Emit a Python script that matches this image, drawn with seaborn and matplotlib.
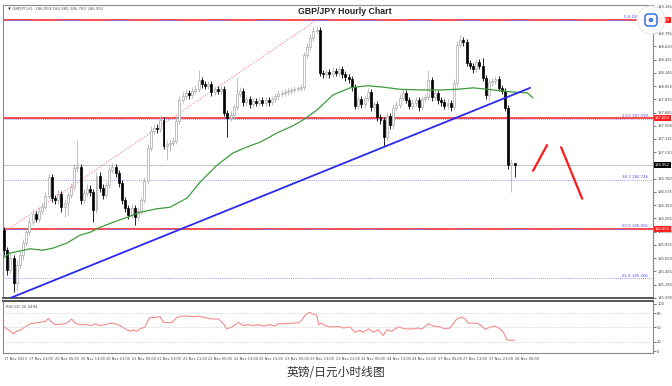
"""GBP/JPY 小时线图 (MT4 风格) 复刻."""
import matplotlib
matplotlib.use("Agg")
import matplotlib.pyplot as plt
import matplotlib.patches as mpatches
import seaborn as sns

# ---- 数据 ----
first_open = 186.04
closes = [
    185.76, 185.48, 185.65, 185.30, 185.55, 185.69, 185.86, 186.01, 186.15, 186.27,
    186.20, 186.31, 186.36, 186.52, 186.78, 186.49, 186.46, 186.55, 186.36, 186.42,
    186.53, 186.64, 186.91, 186.92, 186.46, 186.56, 186.62, 186.57, 186.32, 186.80,
    186.63, 186.53, 186.67, 186.88, 186.92, 186.84, 186.70, 186.46, 186.35, 186.25,
    186.35, 186.22, 186.31, 186.46, 186.73, 187.19, 187.43, 187.47, 187.45, 187.58,
    187.22, 187.25, 187.26, 187.29, 187.57, 187.86, 187.92, 187.96, 187.93, 187.99,
    188.01, 188.14, 188.08, 188.06, 188.08, 187.97, 188.01, 187.99, 188.01, 187.68,
    187.61, 187.65, 187.76, 187.94, 187.99, 187.83, 187.87, 187.80, 187.85, 187.82,
    187.86, 187.82, 187.86, 187.83, 187.87, 187.92, 187.94, 187.96, 187.97, 187.99,
    188.00, 188.01, 188.03, 188.04, 188.49, 188.60, 188.73, 188.82, 188.84, 188.24,
    188.22, 188.25, 188.22, 188.27, 188.24, 188.29, 188.22, 188.18, 188.15, 188.04,
    187.78, 187.87, 187.80, 187.89, 187.97, 187.76, 187.80, 187.62, 187.58, 187.34,
    187.64, 187.51, 187.75, 187.79, 187.89, 187.96, 187.86, 187.78, 187.82, 187.86,
    187.76, 187.87, 187.90, 188.14, 187.90, 187.96, 187.86, 187.83, 187.78, 187.82,
    187.76, 188.10, 188.63, 188.70, 188.67, 188.38, 188.34, 188.29, 188.39, 188.34,
    188.17, 187.93, 188.11, 188.13, 188.15, 188.03, 187.99, 187.75, 186.95, 186.98,
    186.95,
]
highs = [
    186.09, 185.80, 185.72, 185.69, 185.62, 185.76, 185.92, 186.06, 186.22, 186.33,
    186.31, 186.36, 186.42, 186.57, 186.84, 186.83, 186.53, 186.60, 186.59, 186.47,
    186.58, 186.70, 186.97, 187.30, 186.96, 186.61, 186.68, 186.67, 186.62, 186.86,
    186.85, 186.68, 186.72, 186.94, 186.98, 186.96, 186.88, 186.74, 186.50, 186.39,
    186.40, 186.39, 186.36, 186.51, 186.79, 187.25, 187.49, 187.53, 187.52, 187.64,
    187.62, 187.30, 187.31, 187.34, 187.62, 187.91, 187.97, 188.01, 188.00, 188.04,
    188.07, 188.28, 188.18, 188.12, 188.13, 188.12, 188.06, 188.05, 188.06, 188.05,
    187.72, 187.70, 187.81, 188.17, 188.04, 188.03, 187.92, 187.91, 187.89, 187.89,
    187.90, 187.90, 187.90, 187.90, 187.91, 187.96, 187.98, 188.00, 188.01, 188.03,
    188.04, 188.05, 188.06, 188.08, 188.53, 188.65, 188.78, 188.88, 188.90, 188.88,
    188.28, 188.30, 188.29, 188.32, 188.31, 188.34, 188.33, 188.26, 188.22, 188.19,
    188.08, 187.92, 187.91, 187.93, 188.03, 188.01, 187.85, 187.84, 187.66, 187.62,
    187.69, 187.68, 187.80, 187.84, 187.94, 188.02, 188.00, 187.90, 187.87, 187.90,
    187.90, 187.92, 187.95, 188.28, 188.18, 188.00, 188.00, 187.90, 187.88, 187.87,
    187.86, 188.15, 188.68, 188.77, 188.74, 188.71, 188.42, 188.38, 188.44, 188.43,
    188.45, 188.21, 188.16, 188.17, 188.20, 188.19, 188.07, 188.03, 187.79, 187.03,
    186.98,
]
lows = [
    185.69, 185.42, 185.44, 185.18, 185.20, 185.50, 185.62, 185.82, 185.97, 186.11,
    186.15, 186.16, 186.27, 186.33, 186.48, 186.44, 186.40, 186.41, 186.30, 186.22,
    186.25, 186.49, 186.60, 186.86, 186.40, 186.42, 186.52, 186.52, 186.15, 186.28,
    186.58, 186.47, 186.49, 186.63, 186.84, 186.79, 186.65, 186.41, 186.30, 186.20,
    186.21, 186.11, 186.17, 186.27, 186.42, 186.69, 187.15, 187.38, 187.40, 187.41,
    187.17, 187.02, 187.15, 187.21, 187.25, 187.53, 187.82, 187.88, 187.88, 187.89,
    187.95, 187.97, 188.03, 188.01, 188.02, 187.92, 187.93, 187.94, 187.95, 187.63,
    187.34, 187.56, 187.60, 187.72, 187.90, 187.78, 187.78, 187.75, 187.75, 187.77,
    187.77, 187.77, 187.78, 187.78, 187.79, 187.83, 187.88, 187.90, 187.92, 187.93,
    187.95, 187.96, 187.98, 187.99, 188.00, 188.45, 188.56, 188.69, 188.78, 188.19,
    188.17, 188.18, 188.17, 188.18, 188.19, 188.20, 188.17, 188.13, 188.10, 187.99,
    187.73, 187.73, 187.75, 187.75, 187.85, 187.71, 187.71, 187.57, 187.53, 187.20,
    187.29, 187.45, 187.46, 187.71, 187.75, 187.85, 187.82, 187.73, 187.74, 187.78,
    187.71, 187.72, 187.83, 187.86, 187.85, 187.86, 187.81, 187.78, 187.73, 187.74,
    187.71, 187.72, 188.06, 188.59, 188.62, 188.33, 188.29, 188.24, 188.25, 188.29,
    188.12, 187.88, 187.86, 188.06, 188.09, 187.98, 187.94, 187.70, 186.90, 186.57,
    186.78,
]

ma_idx = [-0.3, 1.9, 8.2, 12.2, 15.4, 19.7, 23.8, 27.0, 30.1, 34.2, 38.6, 42.6, 48.0,
          52.0, 57.4, 61.4, 66.8, 71.8, 77.1, 80.3, 85.6, 90.6, 93.7, 98.1, 103.1,
          108.5, 113.8, 118.8, 124.1, 131.3, 136.7, 142.0, 147.0, 151.4, 155.5,
          159.6, 164.0, 165.8]
ma_val = [185.65, 185.72, 185.78, 185.76, 185.79, 185.86, 185.97, 186.01, 186.08,
          186.15, 186.22, 186.29, 186.34, 186.36, 186.49, 186.71, 186.95, 187.12,
          187.22, 187.27, 187.40, 187.50, 187.58, 187.72, 187.93, 188.03, 188.06,
          188.04, 188.01, 188.00, 188.00, 188.01, 188.03, 188.01, 187.99, 187.97,
          187.96, 187.89]

rsi_idx = [-0.2, 1.4, 2.9, 4.0, 5.0, 6.6, 8.2, 9.2, 11.3, 12.9, 13.9, 15.0, 16.0, 18.1,
           19.6, 21.2, 22.3, 23.8, 25.9, 27.5, 28.5, 30.1, 31.7, 33.2, 34.8, 36.4,
           38.5, 39.7, 40.5, 41.6, 42.6, 44.2, 45.2, 45.8, 47.3, 48.9, 49.9, 52.6,
           54.1, 55.7, 57.3, 59.3, 60.9, 63.0, 65.1, 67.2, 68.8, 69.8, 71.4, 73.5,
           75.0, 76.6, 78.1, 79.7, 81.3, 83.4, 85.0, 86.0, 87.6, 89.7, 92.3, 93.3,
           94.4, 95.7, 97.0, 98.0, 98.7, 99.6, 100.6, 102.2, 104.8, 106.4, 108.5,
           110.0, 111.6, 112.6, 114.2, 115.8, 117.3, 118.9, 120.0, 121.5, 123.6,
           125.7, 128.3, 129.9, 130.9, 133.0, 134.6, 136.7, 138.2, 139.8, 141.9,
           143.5, 144.5, 145.6, 148.2, 149.2, 150.8, 152.4, 153.9, 155.5, 156.5,
           157.6, 158.6, 160.0]
rsi_val = [52, 45, 37, 42, 44, 51, 58, 59, 61, 63, 69, 61, 56, 57, 59, 68, 59, 56, 56,
           54, 58, 54, 56, 59, 58, 54, 45, 42, 45, 42, 47, 51, 65, 71, 71, 73, 61, 60,
           71, 74, 74, 73, 74, 71, 68, 68, 58, 47, 51, 61, 54, 56, 54, 56, 53, 56, 53,
           58, 58, 59, 60, 65, 76, 82, 78, 76, 56, 59, 54, 51, 52, 49, 51, 40, 44, 40,
           47, 40, 45, 33, 45, 42, 51, 47, 47, 49, 46, 58, 53, 51, 47, 49, 68, 72, 68,
           59, 59, 56, 46, 51, 53, 47, 40, 24, 23, 23]

time_idx = list(range(0, 161, 8))
time_labels = ["17 Nov 2023", "17 Nov 21:00", "20 Nov 05:00", "20 Nov 13:00",
               "20 Nov 21:00", "21 Nov 05:00", "21 Nov 13:00", "21 Nov 21:00",
               "22 Nov 05:00", "22 Nov 13:00", "22 Nov 21:00", "23 Nov 05:00",
               "23 Nov 13:00", "23 Nov 21:00", "24 Nov 05:00", "24 Nov 13:00",
               "24 Nov 21:00", "27 Nov 05:00", "27 Nov 13:00", "27 Nov 21:00",
               "28 Nov 05:00"]

price_ticks = [185.095 + 0.185 * k for k in range(23)]
red_levels = [188.978, 187.608, 186.056]
fib_pct = ["0.0", "23.6", "38.2", "50.0", "61.8"]
fib_levels = [188.978, 187.599, 186.746, 186.056, 185.366]
last_price = 186.952
trend_x, trend_y = [1.9, 164.9], [185.09, 188.03]
fibdiag_x, fibdiag_y = [0.9, 98.1], [186.04, 188.98]
sig1_x, sig1_y = [165.8, 170.2], [186.87, 187.23]
sig2_x, sig2_y = [174.6, 181.2], [187.20, 186.48]

sns.set_theme(style="white")
plt.rcParams["font.family"] = ["DejaVu Sans", "Noto Sans CJK SC"]
plt.rcParams["axes.unicode_minus"] = False

W, H = 672, 386
fig = plt.figure(figsize=(W / 100, H / 100), dpi=100)
ax = fig.add_axes([3 / W, 88 / H, 650 / W, 293 / H])
ax2 = fig.add_axes([3 / W, 33 / H, 650 / W, 52 / H])

opens = [first_open] + closes[:-1]
idx = list(range(len(closes)))

# 蜡烛
for i, o, h, l, c in zip(idx, opens, highs, lows, closes):
    bull = c >= o
    wick = "#b4b4b4" if bull else "black"
    ax.vlines(i, l, h, color=wick, lw=0.6, zorder=3)
    ax.bar(i, c - o, bottom=o, width=0.62, color="white" if bull else "black",
           edgecolor="#a8a8a8" if bull else "black", lw=0.5, zorder=4)

# 水平线 / 斐波那契
ax.axhline(last_price, color="#c8c8c8", lw=0.8, zorder=1)
for lv in red_levels:
    ax.axhline(lv, color="#ff3a3a", lw=1.3, zorder=2)
for p, lv in zip(fib_pct, fib_levels):
    ax.axhline(lv, color="#7a7aff", lw=0.6, ls=(0, (1, 1.5)), zorder=2.5)
    ax.text(0.992, lv + 0.01, f"{p} {lv:.3f}", transform=ax.get_yaxis_transform(),
            ha="right", va="bottom", fontsize=2.8, color="#5050ff", zorder=6)

ax.plot(fibdiag_x, fibdiag_y, color="#ff8c8c", lw=0.7, ls=(0, (1.5, 1.5)), zorder=2)
sns.lineplot(x=ma_idx, y=ma_val, color="#3c9c3c", lw=0.9, ax=ax, zorder=5)
ax.plot(trend_x, trend_y, color="#2a2af0", lw=1.3, zorder=5)
ax.plot(sig1_x, sig1_y, color="#ff1a1a", lw=1.6, zorder=5)
ax.plot(sig2_x, sig2_y, color="#ff1a1a", lw=1.6, zorder=5)

ax.set_xlim(-0.3, 203.4)
ax.set_ylim(185.092, 189.188)
ax.yaxis.tick_right()
ax.set_yticks(price_ticks)
# 被价格标签盖住的刻度不写文字
covered = [188.978, 186.952]
ax.set_yticklabels(["" if any(abs(t - c) < 0.06 for c in covered) else f"{t:.3f}"
                    for t in price_ticks])
ax.tick_params(axis="y", labelsize=2.6, length=2, width=0.5, pad=1, colors="#444")
ax.set_xticks([])
for s in ax.spines.values():
    s.set_color("#8a8a8a"); s.set_linewidth(0.8)
ax.spines["bottom"].set_color("#555"); ax.spines["bottom"].set_linewidth(1.4)

# 右侧价格标签
tr = ax.get_yaxis_transform()
for lv in red_levels:
    ax.text(1.003, lv, f"{lv:.3f}", transform=tr, ha="left", va="center", fontsize=2.6,
            color="white", zorder=10, clip_on=False,
            bbox=dict(boxstyle="square,pad=0.25", fc="#ff2020", ec="none"))
ax.text(1.003, last_price, f"{last_price:.3f}", transform=tr, ha="left", va="center",
        fontsize=2.6, color="white", zorder=10, clip_on=False,
        bbox=dict(boxstyle="square,pad=0.25", fc="black", ec="none"))

ax.text(0.008, 0.993, "▼ GBPJPY,H1  186.959 186.980 186.783 186.952",
        transform=ax.transAxes, ha="left", va="top", fontsize=2.8, color="#555")
ax.text(0.526, 0.979, "GBP/JPY Hourly Chart", transform=ax.transAxes, ha="center",
        va="center", fontsize=6.3, fontweight="bold", color="#222",
        family=["Liberation Sans", "DejaVu Sans"])

# RSI 面板
sns.lineplot(x=rsi_idx, y=rsi_val, color="#f28a8a", lw=0.8, ax=ax2)
for lv in [80, 50, 20]:
    ax2.axhline(lv, color="#c8c8c8", lw=0.6, ls=(0, (1, 1.5)))
ax2.set_xlim(-0.3, 203.4)
ax2.set_ylim(-4, 106)
ax2.yaxis.tick_right()
ax2.set_yticks([0, 20, 50, 80, 100])
ax2.tick_params(axis="y", labelsize=2.6, length=2, width=0.5, pad=1, colors="#444")
ax2.set_xticks(time_idx)
ax2.set_xticklabels(time_labels, ha="left")
ax2.tick_params(axis="x", labelsize=2.5, length=2, width=0.5, pad=1, colors="#444")
for s in ax2.spines.values():
    s.set_color("#8a8a8a"); s.set_linewidth(0.8)
ax2.spines["top"].set_color("#555"); ax2.spines["top"].set_linewidth(1.4)
ax2.text(0.005, 0.93, "RSI(14) 26.4494", transform=ax2.transAxes, ha="left",
         va="top", fontsize=2.8, color="#555")
ax2.set_xlabel(""); ax2.set_ylabel(""); ax.set_xlabel(""); ax.set_ylabel("")

# 右上角截图图标
fig.patches.append(mpatches.Circle((651, H - 20), 14, transform=None, fc="white",
                                   ec="#e6e6e6", lw=0.8, alpha=0.92, zorder=20))
fig.patches.append(mpatches.FancyBboxPatch((645, H - 26), 12, 12, transform=None,
                                           boxstyle="round,pad=0,rounding_size=3",
                                           fc="none", ec="#3d7be0", lw=1.2, zorder=21))
fig.patches.append(mpatches.Circle((651, H - 20), 2.2, transform=None, fc="#3d7be0",
                                   ec="none", zorder=22))

fig.text(0.5, 1 - 372 / H, "英镑/日元小时线图", ha="center", va="center", fontsize=8.5,
         color="#333", family=["Noto Sans CJK SC", "DejaVu Sans"])

fig.savefig("out.png", dpi=100)
